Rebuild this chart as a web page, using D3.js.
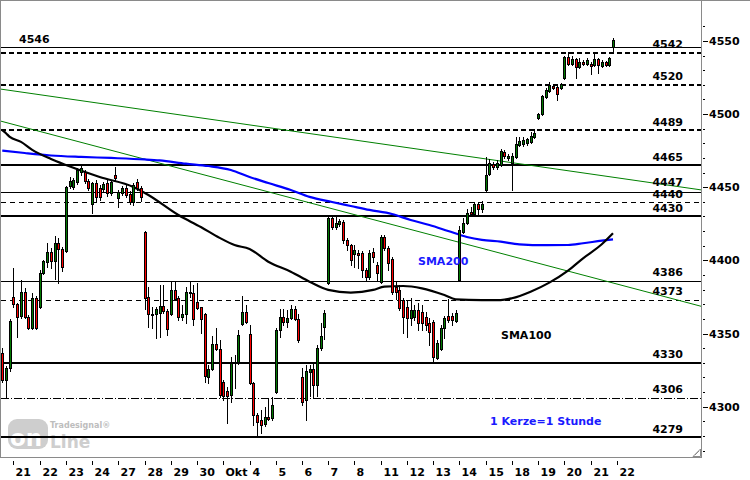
<!DOCTYPE html>
<html><head><meta charset="utf-8">
<script src="https://cdn.jsdelivr.net/npm/d3@7"></script>
<style>
body{margin:0;background:#fff}
svg{display:block}
text{font-family:"DejaVu Sans",Verdana,sans-serif;font-weight:bold;font-size:11px}
</style>
</head><body>
<svg id="chart" width="750" height="480"></svg>
<script>
// ---------- DATA ----------
const dayLabels = ["21","22","23","24","27","28","29","30","Okt","4","5","6","7","8","11","12","13","14","15","18","19","20","21","22"];
const candlesPerDay = 7;
const firstDayCandle = 3; // three hourly candles of the previous day are visible first

const open = [
4336.7,4318.2,4326.4,4375.0,4370.2,4362.0,4378.4,4361.3,4353.8,4374.3,
4368.1,4391.4,4398.9,4405.7,4399.6,4411.9,4407.8,4406.4,4450.8,4450.2,
4453.6,4460.4,4460.4,4454.3,4438.6,4452.9,4449.5,4448.8,4452.9,4446.1,
4458.4,4442.7,4446.1,4449.5,4445.4,4439.9,4453.6,4449.5,4419.4,4375.0,
4363.4,4363.4,4364.0,4368.8,4365.4,4363.4,4379.8,4374.3,4361.3,4363.4,
4378.4,4377.7,4371.6,4368.1,4363.4,4320.3,4325.8,4342.8,4339.4,4316.9,
4310.7,4308.0,4329.9,4330.6,4356.5,4364.7,4349.7,4316.2,4294.3,4290.9,
4288.2,4293.0,4292.3,4310.0,4352.4,4361.3,4357.9,4360.6,4366.8,4360.0,
4320.3,4304.6,4323.7,4325.8,4314.8,4340.1,4354.5,4384.6,4429.0,4422.8,
4424.9,4426.3,4414.0,4410.5,4404.4,4405.1,4405.1,4393.4,4388.6,4405.7,
4396.9,4385.2,4416.0,4408.5,4401.0,4381.8,4379.8,4372.9,4368.1,4360.6,
4361.3,4366.1,4364.7,4361.3,4357.2,4357.9,4333.3,4339.4,4353.8,4362.0,
4362.0,4358.6,4386.6,4419.4,4425.6,4433.1,4431.7,4438.6,4435.1,4448.1,
4459.1,4465.9,4463.9,4465.2,4474.1,4470.0,4466.6,4470.7,4478.9,4479.6,
4480.3,4481.0,4484.4,4497.4,4500.1,4511.7,4515.8,4519.2,4518.5,4517.9,
4524.7,4539.1,4534.3,4537.7,4532.2,4535.6,4534.3,4534.3,4533.6,4537.7,
4532.9,4535.6,4533.6,4545.9];
const high = [
4340.1,4327.8,4360.0,4394.8,4370.9,4386.6,4381.1,4362.7,4377.7,4375.7,
4393.4,4400.3,4411.9,4408.5,4416.7,4415.4,4409.2,4450.8,4457.1,4456.4,
4463.2,4465.2,4461.8,4455.6,4453.6,4455.0,4451.5,4453.6,4455.0,4455.0,
4463.9,4448.1,4450.8,4451.5,4447.4,4452.9,4455.6,4450.8,4420.1,4381.8,
4368.1,4368.1,4383.2,4383.2,4366.8,4385.2,4385.2,4375.7,4369.5,4381.8,
4385.2,4383.2,4384.6,4368.1,4364.0,4328.5,4348.3,4353.8,4345.6,4318.2,
4313.4,4334.0,4335.3,4352.4,4375.7,4369.5,4355.9,4316.9,4295.7,4297.7,
4299.8,4305.9,4306.6,4353.8,4366.8,4366.8,4366.1,4369.5,4368.8,4363.4,
4326.4,4328.5,4328.5,4329.2,4342.2,4357.2,4366.1,4431.0,4431.0,4429.7,
4428.3,4427.6,4415.4,4411.2,4410.5,4407.1,4406.4,4394.8,4407.1,4408.5,
4398.9,4417.4,4417.4,4409.8,4402.3,4385.2,4383.2,4374.3,4372.9,4374.3,
4369.5,4370.9,4369.5,4364.7,4360.6,4359.3,4345.6,4355.9,4362.0,4373.6,
4364.0,4366.1,4423.5,4429.0,4435.1,4436.5,4439.9,4439.9,4440.6,4470.7,
4469.3,4467.3,4468.6,4476.2,4475.5,4472.7,4473.4,4484.4,4484.4,4484.4,
4483.7,4487.8,4489.8,4500.8,4513.1,4517.9,4521.9,4520.6,4519.2,4521.3,
4539.7,4542.5,4539.7,4538.4,4538.4,4537.0,4538.4,4535.6,4541.8,4538.4,
4537.0,4536.3,4539.1,4552.1];
const low = [
4316.9,4306.6,4324.4,4368.1,4347.6,4360.6,4360.6,4353.1,4353.1,4353.1,
4367.4,4390.7,4395.5,4394.8,4387.3,4384.6,4392.7,4405.7,4449.5,4448.8,
4452.3,4458.4,4452.9,4448.1,4432.4,4439.9,4441.3,4446.8,4444.0,4444.7,
4455.0,4436.5,4444.7,4443.3,4438.6,4437.9,4448.1,4440.6,4366.8,4354.5,
4353.8,4346.9,4347.6,4364.0,4349.0,4362.7,4372.9,4359.3,4359.3,4357.2,
4375.0,4355.9,4366.8,4350.4,4316.9,4316.2,4325.1,4338.7,4306.6,4304.6,
4288.8,4303.2,4312.7,4329.2,4355.9,4357.2,4315.5,4287.5,4279.3,4282.0,
4286.8,4290.9,4290.9,4309.4,4347.6,4355.9,4354.5,4360.0,4359.3,4344.2,
4301.1,4290.9,4307.3,4306.6,4307.3,4338.7,4346.3,4383.9,4421.5,4421.5,
4423.5,4411.9,4407.1,4396.9,4395.5,4394.8,4388.6,4386.6,4387.3,4398.9,
4386.6,4384.6,4407.1,4393.4,4377.0,4373.6,4366.1,4350.4,4347.6,4355.9,
4359.3,4352.4,4352.4,4352.4,4342.2,4330.5,4332.6,4338.7,4346.9,4357.9,
4355.9,4357.9,4385.9,4418.7,4424.9,4431.0,4431.0,4431.7,4433.1,4447.4,
4458.4,4462.5,4462.5,4464.5,4470.0,4468.6,4448.1,4470.0,4478.2,4478.2,
4478.9,4480.3,4483.7,4496.7,4499.4,4511.0,4515.1,4517.2,4509.7,4517.2,
4524.0,4533.6,4533.6,4524.7,4531.5,4533.6,4533.6,4527.4,4532.9,4528.1,
4532.2,4532.9,4532.9,4542.5];
const close = [
4318.2,4326.4,4358.6,4370.2,4361.3,4378.4,4361.3,4353.8,4374.3,4353.8,
4391.4,4399.6,4405.7,4399.6,4411.9,4407.8,4395.5,4450.2,4454.3,4455.0,
4461.8,4463.2,4454.3,4449.5,4452.9,4443.3,4443.3,4452.2,4446.1,4453.6,
4456.4,4446.8,4449.5,4444.7,4439.9,4451.5,4449.5,4443.3,4374.3,4363.4,
4362.7,4366.8,4368.8,4365.4,4353.1,4379.8,4373.6,4361.3,4363.4,4378.4,
4377.7,4360.0,4367.4,4360.0,4320.9,4325.8,4342.8,4339.4,4308.0,4307.3,
4307.3,4329.9,4330.6,4349.0,4364.7,4357.9,4316.2,4294.3,4289.5,4287.5,
4293.0,4291.6,4301.1,4352.4,4361.3,4357.9,4360.6,4366.8,4360.0,4345.6,
4303.2,4324.4,4325.8,4314.8,4340.1,4348.3,4364.0,4429.0,4422.8,4425.6,
4426.9,4414.0,4410.5,4400.3,4407.1,4403.7,4393.4,4388.6,4405.1,4402.3,
4391.4,4416.0,4408.5,4398.2,4378.4,4378.4,4367.4,4361.3,4360.6,4366.1,
4366.1,4357.2,4357.2,4355.9,4351.0,4333.9,4343.5,4353.8,4360.6,4359.3,
4359.3,4364.0,4420.8,4425.6,4432.4,4431.7,4438.6,4435.1,4438.6,4458.4,
4466.6,4463.9,4466.6,4474.8,4471.4,4471.4,4471.4,4479.6,4481.6,4482.3,
4483.0,4485.0,4487.1,4500.1,4512.4,4516.5,4519.9,4517.9,4513.8,4520.6,
4539.1,4534.3,4537.7,4532.2,4535.6,4534.3,4537.0,4532.9,4537.7,4533.6,
4535.6,4533.6,4538.4,4550.7];

// moving averages read at sample candles: [candle index, value]
const sma200 = [[0,4475.1],[6,4473.4],[13,4471.7],[21,4470.7],[29,4470.0],[38,4469.0],[42,4468.3],[49,4466.1],[55,4464.5],[61,4461.8],[66,4457.0],[71,4452.9],[77,4448.1],[82,4443.4],[88,4439.9],[93,4437.2],[98,4434.5],[104,4431.7],[109,4427.6],[114,4424.2],[119,4420.1],[124,4416.0],[128,4414.0],[133,4412.8],[138,4411.0],[145,4410.4],[151,4410.5],[155,4411.7],[160,4413.5],[163,4414.4]];
const sma100 = [[0,4489.1],[1,4486.9],[2,4484.4],[5,4481.0],[8,4475.5],[13,4469.3],[17,4465.2],[26,4457.0],[35,4450.2],[39,4444.7],[47,4431.0],[53,4422.8],[58,4415.4],[62,4410.5],[66,4407.8],[71,4399.1],[77,4392.3],[82,4385.4],[87,4379.8],[93,4378.0],[99,4379.8],[102,4382.0],[107,4382.5],[112,4380.9],[118,4376.3],[121,4373.4],[128,4372.9],[133,4372.9],[136,4374.1],[141,4378.6],[146,4384.8],[151,4393.0],[155,4401.4],[160,4411.0],[163,4418.5]];

// trend lines: [candle index, value] end points
const trendUpper = [[-1,4517.3],[187,4448.0]];
const trendLower = [[-1,4495.6],[187,4368.3]];

// horizontal levels
const levels = [4546,4542,4520,4489,4465,4447,4440,4430,4386,4373,4330,4306,4279];
const axisMajor = [4300,4350,4400,4450,4500,4550];
const axisMinorStep = 10;

// ---------- STYLE ----------
const levelKind = {4546:"thin",4542:"thickDash",4520:"thickDash",4489:"thickDash",4465:"thick",4447:"thin",4440:"thinDash",4430:"thick",4386:"thin",4373:"thinDash",4330:"thick",4306:"dashDot",4279:"thick"};
const labelShift = {4447:-1, 4440:1};
const kindStyle = {
  thin:{w:1,dash:null}, thick:{w:2,dash:null},
  thickDash:{w:2,dash:"5,3"}, thinDash:{w:1,dash:"5,4"}, dashDot:{w:1,dash:"8,2,1,2"}
};

const svg = d3.select("#chart");
const L = 1, R = 702, T = 1, B = 457;

const x = d3.scaleLinear().domain([-0.336, 186.75]).range([L, R]);
const y = d3.scaleLinear().domain([4265.6, 4577.3]).range([B, T]);

svg.append("defs").append("clipPath").attr("id","plot")
  .append("rect").attr("x",L).attr("y",T).attr("width",R-L).attr("height",B-T);

// watermark
const wm = svg.append("g");
wm.append("rect").attr("x",8).attr("y",419).attr("width",40).attr("height",30).attr("rx",9).attr("fill","#cecece");
wm.append("text").attr("x",10).attr("y",446).attr("fill","#fff").style("font-size","23px").text("on");
wm.append("text").attr("x",50).attr("y",448).attr("fill","#cecece").style("font-size","17px").text("Line");
wm.append("text").attr("x",50).attr("y",428).attr("fill","#bdbdbd").style("font-size","8px").text("Tradesignal\u00AE");

const plot = svg.append("g").attr("clip-path","url(#plot)");

// levels
levels.forEach(v => {
  const st = kindStyle[levelKind[v]];
  const yy = Math.round(y(v)) + (st.w % 2 ? 0.5 : 0);
  const ln = plot.append("line").attr("x1",L).attr("x2",R).attr("y1",yy).attr("y2",yy)
    .attr("stroke","#000").attr("stroke-width",st.w).attr("shape-rendering","crispEdges");
  if (st.dash) ln.attr("stroke-dasharray",st.dash);
});

// trend lines
const tline = d3.line().x(d=>x(d[0])).y(d=>y(d[1]));
[trendUpper, trendLower].forEach(t => {
  plot.append("path").attr("d",tline(t)).attr("fill","none").attr("stroke","#008000").attr("stroke-width",1);
});

// moving averages
const maLine = d3.line().x(d=>x(d[0])).y(d=>y(d[1])).curve(d3.curveMonotoneX);
plot.append("path").attr("d",maLine(sma200)).attr("fill","none").attr("stroke","#0000ff").attr("stroke-width",2.2);
plot.append("path").attr("d",maLine(sma100)).attr("fill","none").attr("stroke","#000").attr("stroke-width",2.2);

// candles
const cg = plot.append("g").attr("shape-rendering","crispEdges");
open.forEach((o,i) => {
  const c = close[i], h = high[i], l = low[i];
  const cx = Math.round(x(i));
  cg.append("line").attr("x1",cx+0.5).attr("x2",cx+0.5)
    .attr("y1",Math.round(y(h))).attr("y2",Math.round(y(l))+1).attr("stroke","#000").attr("stroke-width",1);
  const top = Math.round(y(Math.max(o,c))), bot = Math.round(y(Math.min(o,c)));
  const hgt = Math.max(1, bot - top);
  cg.append("rect").attr("x",cx-1).attr("y",top).attr("width",3).attr("height",hgt+1).attr("fill","#000");
  if (hgt >= 2) {
    cg.append("rect").attr("x",cx).attr("y",top+1).attr("width",1).attr("height",hgt-1)
      .attr("fill", c >= o ? "#007800" : "#ff0000");
  }
});

// level labels
levels.forEach(v => {
  const yy = y(v) + (labelShift[v] || 0);
  if (v === 4546) {
    svg.append("text").attr("x",19).attr("y",yy-4).text(v);
  } else {
    svg.append("text").attr("x",683).attr("y",yy-4.5).attr("text-anchor","end").text(v);
  }
});

// annotations
svg.append("text").attr("x",418).attr("y",265).attr("fill","#1a1aff").text("SMA200");
svg.append("text").attr("x",501).attr("y",339).attr("fill","#000").text("SMA100");
svg.append("text").attr("x",490).attr("y",425).attr("fill","#1a1aff").text("1 Kerze=1 Stunde");

// frame
const frame = svg.append("g").attr("stroke","#8a8a8a").attr("stroke-width",1).attr("shape-rendering","crispEdges");
frame.append("line").attr("x1",0).attr("x2",750).attr("y1",0.5).attr("y2",0.5);
frame.append("line").attr("x1",0.5).attr("x2",0.5).attr("y1",0).attr("y2",458);
frame.append("line").attr("x1",701.5).attr("x2",701.5).attr("y1",0).attr("y2",458);
frame.append("line").attr("x1",0).attr("x2",702).attr("y1",457.5).attr("y2",457.5);
// resize grip
svg.append("path").attr("d","M693,456.5 L700.5,456.5 L700.5,449 Z").attr("fill","#fff").attr("stroke","#8a8a8a");
svg.append("path").attr("d","M695,455 L699,451").attr("stroke","#8a8a8a");

// right axis
const ax = svg.append("g").attr("shape-rendering","crispEdges");
for (let v = 4270; v <= 4560; v += axisMinorStep) {
  const yy = Math.round(y(v)) + 0.5;
  const major = axisMajor.includes(v);
  ax.append("line").attr("x1",703).attr("x2",major?708:705).attr("y1",yy).attr("y2",yy).attr("stroke","#000");
}
axisMajor.forEach(v => {
  svg.append("text").attr("x",709).attr("y",y(v)+4).text(v);
});

// bottom axis
dayLabels.forEach((lab,d) => {
  const tx = Math.round(x(firstDayCandle + d*candlesPerDay)) + 0.5;
  ax.append("line").attr("x1",tx).attr("x2",tx).attr("y1",461).attr("y2",465).attr("stroke","#000");
  svg.append("text").attr("x",tx+2).attr("y",476).text(lab);
});
</script>
</body></html>
